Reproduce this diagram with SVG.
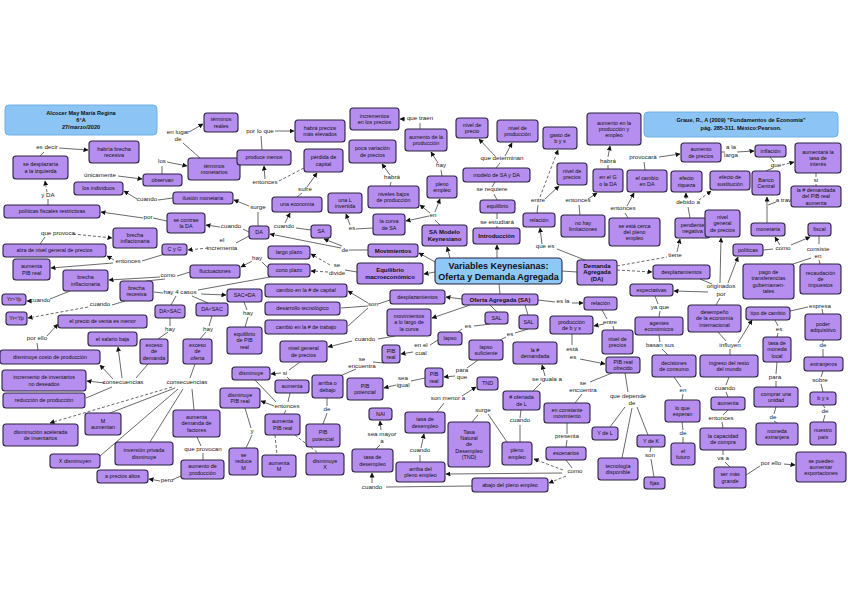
<svg xmlns="http://www.w3.org/2000/svg" width="848" height="599" viewBox="0 0 848 599">
<defs>
<marker id="ar" markerWidth="5" markerHeight="5" refX="4.5" refY="2.5" orient="auto" markerUnits="userSpaceOnUse"><path d="M0,0 L5,2.5 L0,5 z" fill="#111"/></marker>
<style>
text{font-family:"Liberation Sans",Arial,sans-serif;text-anchor:middle}
.n rect{fill:#b68ef0;stroke:#2b2340;stroke-width:1.1}
.n text{font-size:5.4px;fill:#111}
.bd text{font-size:6px;font-weight:bold}
.hd rect{fill:#8cc5f5;stroke:#70aee6;stroke-width:1}
.hd text{font-size:5.6px;font-weight:bold;fill:#111}
.ct rect{fill:#8ec8f6;stroke:#2b2340;stroke-width:1.1}
.ct text{font-size:9px;font-weight:bold;fill:#111}
.l text{font-size:6.2px;fill:#222}
.k path{stroke:#444;stroke-width:.8;fill:none}
.k path.a{marker-end:url(#ar)}
.k path.d{stroke-dasharray:3 2}
</style>
</defs>
<rect width="848" height="599" fill="#fff"/>

<g id="connectors" class="k">
<path d="M40,156 L44,152"/><path class="a" d="M59,148 L88,150"/>
<path d="M48,205 L48,199"/><path class="a d" d="M47,192 L45,181"/>
<path d="M167,221 L153,218"/><path class="a" d="M143,218 L101,212"/>
<path d="M40,244 L45,237"/><path class="a d" d="M73,234 L112,238"/>
<path d="M165,254 L142,261"/><path class="a" d="M114,260 L107,256"/><path class="a" d="M113,263 L51,268"/>
<path d="M249,236 L236,243"/><path class="a d" d="M208,248 L188,250"/>
<path d="M190,272 L177,276"/><path class="a" d="M160,277 L109,280"/><path d="M165,279 L146,281"/>
<path d="M70,291 L50,299"/><path class="a" d="M31,301 L27,301"/>
<path d="M125,301 L112,305"/><path class="a d" d="M88,307 L28,318"/>
<path d="M268,268 L262,262"/><path class="a" d="M252,261 L241,267"/>
<path d="M357,272 L345,270"/><path class="a d" d="M330,265 L311,254"/><path class="a d" d="M328,272 L311,271"/>
<path d="M270,277 L198,290"/><path class="a" d="M201,294 L226,295"/><path d="M176,296 L171,305"/><path d="M192,296 L208,303"/><path d="M163,293 L154,292"/>
<path d="M170,318 L170,326"/><path d="M168,332 L158,339"/>
<path d="M212,316 L209,326"/><path d="M206,332 L200,339"/>
<path d="M244,302 L247,310"/><path d="M248,317 L245,327"/>
<path d="M148,364 L136,378"/><path class="a" d="M105,383 L87,381"/><path d="M112,387 L86,398"/><path class="a" d="M113,379 L100,365"/><path class="a" d="M122,378 L118,347"/>
<path d="M195,364 L190,378"/><path class="a d" d="M172,387 L50,423"/><path d="M175,388 L110,413"/><path d="M178,389 L100,456"/><path d="M183,389 L150,442"/><path d="M192,389 L194,410"/>
<path d="M197,437 L201,446"/><path d="M203,453 L203,460"/>
<path d="M181,476 L172,480"/><path class="a" d="M160,481 L149,479"/>
<path d="M38,350 L37,343"/><path class="a" d="M47,336 L58,324"/>
<path d="M262,150 L261,136"/><path class="a" d="M275,131 L294,131"/>
<path d="M200,158 L183,143"/><path class="a" d="M189,132 L203,124"/>
<path d="M162,174 L162,166"/><path class="a" d="M167,162 L187,166"/>
<path class="a" d="M118,176 L142,179"/>
<path d="M173,198 L158,200"/><path class="a" d="M137,199 L124,191"/>
<path class="a" d="M265,179 L264,166"/><path class="d" d="M279,181 L304,168"/>
<path d="M297,197 L302,193"/><path class="a" d="M307,187 L317,173"/>
<path d="M390,186 L391,182"/><path class="a" d="M390,175 L382,164"/>
<path d="M258,226 L258,212"/><path class="a" d="M249,206 L234,200"/>
<path d="M249,232 L243,229"/><path class="a" d="M220,227 L206,225"/>
<path d="M311,230 L296,228"/><path class="a" d="M285,223 L290,213"/>
<path d="M368,250 L349,250"/><path class="a" d="M341,248 L270,234"/><path class="a" d="M342,246 L324,239"/>
<path d="M373,228 L356,229"/><path class="a" d="M350,225 L346,214"/>
<path d="M440,225 L435,220"/><path class="a" d="M429,216 L406,221"/><path class="a" d="M430,213 L420,205"/><path class="a" d="M435,212 L440,199"/>
<path d="M442,176 L441,170"/><path class="a" d="M438,163 L431,152"/>
<path d="M420,129 L420,123"/><path class="a" d="M405,119 L400,119"/>
<path d="M496,168 L500,163"/><path class="a" d="M495,156 L479,139"/><path class="a" d="M505,156 L512,143"/>
<path d="M497,200 L494,194"/><path d="M492,187 L495,182"/>
<path d="M497,228 L497,226"/><path d="M497,219 L497,213"/>
<path class="a" d="M450,258 L447,247"/><path class="a" d="M497,258 L497,245"/><path class="a" d="M435,262 L419,253"/><path class="a" d="M435,272 L424,274"/><path d="M499,284 L500,294"/><path d="M562,271 L577,272"/>
<path d="M585,260 L557,249"/><path class="a" d="M542,244 L540,228"/>
<path d="M537,213 L538,205"/><path class="a d" d="M540,197 L558,150"/><path class="a" d="M545,199 L559,186"/>
<path d="M580,215 L579,205"/><path class="a" d="M588,199 L597,193"/>
<path d="M608,169 L608,165"/><path class="a" d="M608,157 L610,146"/>
<path d="M628,218 L625,213"/><path class="a" d="M627,206 L634,193"/>
<path d="M645,170 L644,162"/><path class="a" d="M659,157 L680,154"/>
<path d="M721,152 L725,152"/><path class="a" d="M737,152 L754,151"/>
<path d="M770,157 L774,162"/><path d="M766,171 L773,168"/><path class="a d" d="M782,165 L794,162"/>
<path d="M816,173 L816,177"/><path d="M816,184 L816,186"/>
<path class="a" d="M767,223 L767,197"/><path d="M776,202 L768,205"/>
<path class="d" d="M617,266 L667,257"/><path class="a" d="M677,252 L680,239"/>
<path class="a d" d="M617,270 L652,272"/>
<path d="M690,218 L688,207"/><path class="a" d="M686,199 L686,193"/><path class="a d" d="M699,200 L711,191"/>
<path d="M700,279 L712,284"/><path class="a" d="M708,292 L674,291"/><path class="a" d="M720,283 L721,238"/><path class="a" d="M728,283 L738,257"/><path d="M720,298 L716,305"/>
<path d="M763,250 L773,249"/><path class="a" d="M780,245 L775,237"/><path class="a" d="M791,245 L810,237"/>
<path d="M819,236 L819,244"/><path d="M819,260 L820,264"/><path d="M811,258 L790,265"/>
<path d="M655,296 L658,304"/><path d="M660,311 L659,317"/>
<path d="M659,335 L660,342"/><path d="M662,349 L668,355"/>
<path d="M674,377 L681,387"/><path d="M683,394 L682,400"/>
<path d="M682,422 L683,430"/><path d="M683,437 L683,443"/>
<path d="M718,332 L726,341"/><path class="a" d="M738,343 L752,320"/><path d="M730,349 L730,355"/>
<path d="M729,377 L726,385"/><path d="M726,392 L728,397"/>
<path d="M728,410 L723,415"/><path d="M722,422 L723,428"/>
<path d="M723,450 L723,455"/><path d="M725,462 L730,467"/>
<path d="M746,475 L760,466"/><path class="a" d="M784,464 L795,465"/>
<path d="M775,320 L778,326"/><path d="M778,333 L777,337"/>
<path d="M777,362 L776,374"/><path d="M776,381 L776,387"/>
<path d="M776,407 L774,414"/><path d="M774,421 L777,423"/>
<path d="M790,311 L808,307"/><path d="M822,309 L823,314"/>
<path d="M823,340 L823,342"/><path d="M823,349 L823,357"/>
<path d="M823,371 L821,377"/><path d="M821,384 L823,392"/>
<path d="M823,405 L825,408"/><path d="M825,415 L823,422"/>
<path class="a" d="M462,299 L446,297"/>
<path class="a" d="M470,305 L432,318"/>
<path d="M490,305 L497,312"/><path d="M525,305 L528,315"/>
<path d="M538,300 L555,302"/><path class="a" d="M572,303 L583,303"/>
<path d="M602,310 L607,319"/><path class="a" d="M604,324 L594,326"/><path d="M613,326 L614,330"/>
<path d="M572,334 L572,345"/><path class="a" d="M580,359 L605,364"/>
<path d="M390,300 L378,304"/><path class="a" d="M368,303 L348,291"/><path d="M368,306 L341,308"/><path d="M368,308 L348,326"/>
<path d="M395,336 L378,339"/><path class="a" d="M352,341 L328,347"/>
<path d="M490,324 L474,326"/><path d="M462,329 L458,332"/>
<path d="M528,329 L515,333"/><path d="M506,337 L500,340"/>
<path d="M438,340 L430,345"/><path class="a" d="M413,352 L401,354"/>
<path d="M300,362 L289,370"/><path class="a" d="M281,373 L271,374"/><path d="M287,377 L290,380"/>
<path d="M384,363 L373,362"/><path d="M356,369 L340,376"/>
<path d="M425,378 L411,381"/><path class="a" d="M396,385 L384,388"/>
<path d="M478,360 L467,368"/><path class="a" d="M455,376 L444,377"/>
<path d="M290,393 L288,402"/><path d="M255,380 L276,402"/><path class="a" d="M274,406 L261,401"/><path d="M286,410 L284,414"/>
<path d="M245,408 L251,428"/><path d="M252,435 L246,448"/>
<path class="d" d="M275,435 L277,455"/><path class="d" d="M295,435 L318,453"/>
<path d="M327,398 L327,406"/><path d="M327,413 L323,424"/>
<path d="M376,449 L380,445"/><path class="a" d="M381,430 L380,421"/>
<path d="M472,486 L386,487"/><path class="a" d="M372,483 L372,473"/>
<path d="M420,462 L420,455"/><path class="a" d="M421,448 L424,434"/>
<path d="M437,412 L444,403"/><path class="a" d="M462,396 L476,387"/>
<path d="M472,422 L478,415"/><path d="M488,414 L507,442"/>
<path d="M520,442 L520,425"/><path d="M520,418 L521,410"/>
<path d="M533,391 L541,383"/><path class="a" d="M545,376 L542,365"/>
<path d="M566,460 L572,468"/><path class="a d" d="M563,470 L534,459"/><path class="a" d="M562,473 L446,474"/><path class="a d" d="M566,476 L549,483"/>
<path d="M567,423 L567,434"/><path d="M567,440 L566,447"/>
<path d="M612,373 L590,382"/><path d="M582,394 L575,403"/>
<path d="M625,373 L628,392"/><path d="M625,407 L610,427"/><path d="M637,407 L648,435"/><path d="M632,408 L622,458"/>
<path d="M651,447 L650,452"/><path d="M651,459 L654,477"/>
</g>

<g id="labels" class="l">
<text x="47" y="149">es decir</text>
<text x="178" y="134">en lugar</text><text x="178" y="141">de</text>
<text x="260" y="133">por lo que</text>
<text x="420" y="120">que traen</text>
<text x="162" y="163">los</text>
<text x="100" y="177">únicamente</text>
<text x="147" y="201">cuando</text>
<text x="48" y="197">y DA</text>
<text x="148" y="219">por</text>
<text x="58" y="235">que provoca</text>
<text x="222" y="242">el</text><text x="222" y="250">incrementa</text>
<text x="128" y="263">entonces</text>
<text x="168" y="277">como</text>
<text x="180" y="294">hay 4 casos</text>
<text x="40" y="302">cuando</text>
<text x="100" y="306">cuando</text>
<text x="37" y="340">por ello</text>
<text x="170" y="331">hay</text>
<text x="208" y="331">hay</text>
<text x="248" y="315">hay</text>
<text x="123" y="384">consecuencias</text>
<text x="187" y="384">consecuencias</text>
<text x="203" y="451">que provocan</text>
<text x="167" y="482">pero</text>
<text x="265" y="184">entonces</text>
<text x="305" y="191">sufre</text>
<text x="392" y="179">habrá</text>
<text x="258" y="209">surge</text>
<text x="231" y="228">cuando</text>
<text x="284" y="228">cuando</text>
<text x="352" y="230">es</text>
<text x="433" y="217">en</text>
<text x="441" y="167">hay</text>
<text x="502" y="160">que determinan</text>
<text x="492" y="191">se requiere</text>
<text x="497" y="224">se estudiará</text>
<text x="538" y="202">entre</text>
<text x="578" y="202">entonces</text>
<text x="608" y="163">habrá</text>
<text x="623" y="210">entonces</text>
<text x="643" y="159">provocará</text>
<text x="731" y="149">a la</text><text x="731" y="157">larga</text>
<text x="776" y="167">que</text>
<text x="816" y="182">si</text>
<text x="688" y="204">debido a</text>
<text x="791" y="202">a través de</text>
<text x="345" y="252">de</text>
<text x="257" y="260">hay</text>
<text x="337" y="267">se</text><text x="337" y="275">divide</text>
<text x="545" y="248">que es</text>
<text x="675" y="257">tiene</text>
<text x="783" y="250">como</text>
<text x="818" y="251">consiste</text><text x="818" y="258">en</text>
<text x="721" y="288">originados</text><text x="721" y="296">por</text>
<text x="660" y="309">ya que</text>
<text x="820" y="308">expresa</text>
<text x="779" y="331">es</text>
<text x="660" y="347">basan sus</text>
<text x="730" y="347">influyen</text>
<text x="823" y="347">de</text>
<text x="563" y="303">es la</text>
<text x="610" y="324">entre</text>
<text x="468" y="328">es</text>
<text x="510" y="336">es</text>
<text x="373" y="306">son</text>
<text x="365" y="341">cuando</text>
<text x="421" y="347">en el</text><text x="421" y="355">cual</text>
<text x="572" y="351">está</text><text x="573" y="359">es</text>
<text x="362" y="361">se</text><text x="362" y="368">encuentra</text>
<text x="285" y="375">si</text>
<text x="403" y="380">sea</text><text x="403" y="387">igual</text>
<text x="462" y="372">para</text><text x="462" y="379">que</text>
<text x="287" y="408">entonces</text>
<text x="327" y="411">de</text>
<text x="252" y="433">y</text>
<text x="382" y="436">sea mayor</text><text x="382" y="443">a</text>
<text x="420" y="452">cuando</text>
<text x="372" y="489">cuando</text>
<text x="448" y="400">son menor a</text>
<text x="547" y="381">se iguala a</text>
<text x="483" y="412">surge</text>
<text x="520" y="422">cuando</text>
<text x="583" y="385">se</text><text x="583" y="392">encuentra</text>
<text x="628" y="398">que depende</text><text x="632" y="405">de</text>
<text x="567" y="438">presenta</text>
<text x="575" y="473">como</text>
<text x="650" y="457">son</text>
<text x="775" y="379">para</text>
<text x="820" y="382">sobre</text>
<text x="683" y="392">en</text>
<text x="725" y="390">cuando</text>
<text x="825" y="413">de</text>
<text x="721" y="420">entonces</text>
<text x="773" y="419">de</text>
<text x="683" y="435">de</text>
<text x="723" y="460">va a</text>
<text x="771" y="465">por ello</text>
</g>

<g id="hdr1" class="hd"><rect x="5" y="105" width="152" height="30" rx="4"/><text x="81" y="115">Alcocer May María Regina</text><text x="81" y="122">6°A</text><text x="81" y="129">27/marzo/2020</text></g>
<g id="hdr2" class="hd"><rect x="644" y="112" width="194" height="25" rx="4"/><text x="741" y="122">Graue, R., A (2009) "Fundamentos de Economía"</text><text x="741" y="130">pág. 285-311. México:Pearson.</text></g>
<g id="center" class="ct"><rect x="435" y="258" width="127" height="26" rx="4"/><text x="498.5" y="269">Variables Keynesianas:</text><text x="498.5" y="280">Oferta y Demanda Agregada</text></g>

<g id="n1" class="n"><rect x="13" y="156" width="55" height="23" rx="3"/><text x="40.5" y="166.2">se desplazaría</text><text x="40.5" y="172.6">a la izquierda</text></g>
<g id="n2" class="n"><rect x="89" y="141" width="50" height="22" rx="3"/><text x="114" y="150.7">habría brecha</text><text x="114" y="157.1">recesiva</text></g>
<g id="n3" class="n"><rect x="204" y="113" width="34" height="19" rx="3"/><text x="221" y="121.2">términos</text><text x="221" y="127.6">reales</text></g>
<g id="n4" class="n"><rect x="188" y="158" width="52" height="22" rx="3"/><text x="214" y="167.7">términos</text><text x="214" y="174.1">monetarios</text></g>
<g id="n5" class="n"><rect x="143" y="174" width="39" height="12" rx="3"/><text x="162.5" y="181.9">observan</text></g>
<g id="n6" class="n"><rect x="74" y="182" width="49" height="13" rx="3"/><text x="98.5" y="190.4">los individuos</text></g>
<g id="n7" class="n"><rect x="173" y="192" width="60" height="12" rx="3"/><text x="203" y="199.9">ilusión monetaria</text></g>
<g id="n8" class="n"><rect x="4" y="205" width="96" height="13" rx="3"/><text x="52" y="213.4">políticas fiscales restrictivas</text></g>
<g id="n9" class="n"><rect x="167" y="213" width="38" height="20" rx="3"/><text x="186" y="221.7">se contrae</text><text x="186" y="228.1">la DA</text></g>
<g id="n10" class="n"><rect x="113" y="228" width="44" height="20" rx="3"/><text x="135" y="236.7">brecha</text><text x="135" y="243.1">inflacionaria</text></g>
<g id="n11" class="n"><rect x="3" y="244" width="103" height="13" rx="3"/><text x="54.5" y="252.4">alza de nivel general de precios</text></g>
<g id="n12" class="n"><rect x="162" y="244" width="25" height="11" rx="3"/><text x="174.5" y="251.4">C y G</text></g>
<g id="n13" class="n"><rect x="13" y="259" width="37" height="21" rx="3"/><text x="31.5" y="268.2">aumenta</text><text x="31.5" y="274.6">PIB real</text></g>
<g id="n14" class="n"><rect x="63" y="270" width="45" height="21" rx="3"/><text x="85.5" y="279.2">brecha</text><text x="85.5" y="285.6">inflacionaria</text></g>
<g id="n15" class="n"><rect x="190" y="265" width="50" height="13" rx="3"/><text x="215" y="273.4">fluctuaciones</text></g>
<g id="n16" class="n"><rect x="120" y="281" width="33" height="20" rx="3"/><text x="136.5" y="289.7">brecha</text><text x="136.5" y="296.1">recesiva</text></g>
<g id="n17" class="n"><rect x="2" y="294" width="24" height="11" rx="3"/><text x="14" y="301.4">Yr&gt;Yp</text></g>
<g id="n18" class="n"><rect x="6" y="312" width="21" height="13" rx="3"/><text x="16.5" y="320.4">Yr&lt;Yp</text></g>
<g id="n19" class="n"><rect x="155" y="305" width="30" height="13" rx="3"/><text x="170" y="313.4">DA&gt;SAC</text></g>
<g id="n20" class="n"><rect x="196" y="303" width="32" height="13" rx="3"/><text x="212" y="311.4">DA&lt;SAC</text></g>
<g id="n21" class="n"><rect x="227" y="289" width="35" height="13" rx="3"/><text x="244.5" y="297.4">SAC=DA</text></g>
<g id="n22" class="n"><rect x="227" y="327" width="35" height="27" rx="3"/><text x="244.5" y="336">equilibrio</text><text x="244.5" y="342.4">de PIB</text><text x="244.5" y="348.8">real</text></g>
<g id="n23" class="n"><rect x="58" y="315" width="89" height="13" rx="3"/><text x="102.5" y="323.4">el precio de venta es menor</text></g>
<g id="n24" class="n"><rect x="88" y="332" width="49" height="14" rx="3"/><text x="112.5" y="340.9">el salario baja</text></g>
<g id="n25" class="n"><rect x="140" y="339" width="28" height="25" rx="3"/><text x="154" y="347">exceso</text><text x="154" y="353.4">de</text><text x="154" y="359.8">demanda</text></g>
<g id="n26" class="n"><rect x="183" y="339" width="29" height="25" rx="3"/><text x="197.5" y="347">exceso</text><text x="197.5" y="353.4">de</text><text x="197.5" y="359.8">oferta</text></g>
<g id="n27" class="n"><rect x="0" y="350" width="100" height="14" rx="3"/><text x="50" y="358.9">disminuye costo de producción</text></g>
<g id="n28" class="n"><rect x="2" y="370" width="84" height="21" rx="3"/><text x="44" y="379.2">incremento de inventarios</text><text x="44" y="385.6">no deseados</text></g>
<g id="n29" class="n"><rect x="3" y="393" width="82" height="15" rx="3"/><text x="44" y="402.4">reducción de producción</text></g>
<g id="n30" class="n"><rect x="3" y="424" width="75" height="22" rx="3"/><text x="40.5" y="433.7">disminución acelerada</text><text x="40.5" y="440.1">de inventarios</text></g>
<g id="n31" class="n"><rect x="85" y="413" width="36" height="22" rx="3"/><text x="103" y="422.7">M</text><text x="103" y="429.1">aumentan</text></g>
<g id="n32" class="n"><rect x="173" y="410" width="47" height="27" rx="3"/><text x="196.5" y="419">aumenta</text><text x="196.5" y="425.4">demanda de</text><text x="196.5" y="431.8">factores</text></g>
<g id="n33" class="n"><rect x="115" y="442" width="58" height="23" rx="3"/><text x="144" y="452.2">inversión privada</text><text x="144" y="458.6">disminuye</text></g>
<g id="n34" class="n"><rect x="50" y="454" width="50" height="14" rx="3"/><text x="75" y="462.9">X disminuyen</text></g>
<g id="n35" class="n"><rect x="97" y="470" width="51" height="13" rx="3"/><text x="122.5" y="478.4">a precios altos</text></g>
<g id="n36" class="n"><rect x="181" y="460" width="43" height="19" rx="3"/><text x="202.5" y="468.2">aumento de</text><text x="202.5" y="474.6">producción</text></g>
<g id="n37" class="n"><rect x="249" y="226" width="20" height="13" rx="3"/><text x="259" y="234.4">DA</text></g>
<g id="n38" class="n"><rect x="311" y="225" width="20" height="13" rx="3"/><text x="321" y="233.4">SA</text></g>
<g id="n39" class="n"><rect x="268" y="246" width="42" height="13" rx="3"/><text x="289" y="254.4">largo plazo</text></g>
<g id="n40" class="n"><rect x="268" y="264" width="42" height="13" rx="3"/><text x="289" y="272.4">corto plazo</text></g>
<g id="n41" class="n bd"><rect x="368" y="244" width="50" height="13" rx="3"/><text x="393" y="252.6">Movimientos</text></g>
<g id="n42" class="n bd"><rect x="357" y="263" width="66" height="21" rx="3"/><text x="390" y="271.8">Equilibrio</text><text x="390" y="278.6">macroeconómico</text></g>
<g id="n43" class="n"><rect x="265" y="284" width="82" height="13" rx="3"/><text x="306" y="292.4">cambio en la # de capital</text></g>
<g id="n44" class="n"><rect x="265" y="302" width="75" height="13" rx="3"/><text x="302.5" y="310.4">desarrollo tecnológico</text></g>
<g id="n45" class="n"><rect x="265" y="320" width="82" height="14" rx="3"/><text x="306" y="328.9">cambio en la # de trabajo</text></g>
<g id="n46" class="n"><rect x="390" y="290" width="55" height="14" rx="3"/><text x="417.5" y="298.9">desplazamientos</text></g>
<g id="n47" class="n"><rect x="387" y="309" width="44" height="27" rx="3"/><text x="409" y="318">movimientos</text><text x="409" y="324.4">a lo largo de</text><text x="409" y="330.8">la curva</text></g>
<g id="n48" class="n"><rect x="280" y="341" width="47" height="21" rx="3"/><text x="303.5" y="350.2">nivel general</text><text x="303.5" y="356.6">de precios</text></g>
<g id="n49" class="n"><rect x="382" y="345" width="18" height="18" rx="3"/><text x="391" y="352.7">PIB</text><text x="391" y="359.1">real</text></g>
<g id="n50" class="n"><rect x="232" y="367" width="38" height="13" rx="3"/><text x="251" y="375.4">disminuye</text></g>
<g id="n51" class="n"><rect x="275" y="380" width="34" height="13" rx="3"/><text x="292" y="388.4">aumenta</text></g>
<g id="n52" class="n"><rect x="312" y="375" width="31" height="23" rx="3"/><text x="327.5" y="385.2">arriba o</text><text x="327.5" y="391.6">debajo</text></g>
<g id="n53" class="n"><rect x="347" y="378" width="36" height="22" rx="3"/><text x="365" y="387.7">PIB</text><text x="365" y="394.1">potencial</text></g>
<g id="n54" class="n"><rect x="220" y="388" width="40" height="20" rx="3"/><text x="240" y="396.7">disminuye</text><text x="240" y="403.1">PIB real</text></g>
<g id="n55" class="n"><rect x="265" y="414" width="35" height="21" rx="3"/><text x="282.5" y="423.2">aumenta</text><text x="282.5" y="429.6">PIB real</text></g>
<g id="n56" class="n"><rect x="306" y="424" width="34" height="23" rx="3"/><text x="323" y="434.2">PIB</text><text x="323" y="440.6">potencial</text></g>
<g id="n57" class="n"><rect x="369" y="408" width="23" height="12" rx="3"/><text x="380.5" y="415.9">NAI</text></g>
<g id="n58" class="n"><rect x="352" y="449" width="41" height="23" rx="3"/><text x="372.5" y="459.2">tasa de</text><text x="372.5" y="465.6">desempleo</text></g>
<g id="n59" class="n"><rect x="405" y="412" width="40" height="21" rx="3"/><text x="425" y="421.2">tasa de</text><text x="425" y="427.6">desempleo</text></g>
<g id="n60" class="n"><rect x="229" y="448" width="29" height="27" rx="3"/><text x="243.5" y="457">se</text><text x="243.5" y="463.4">reduce</text><text x="243.5" y="469.8">M</text></g>
<g id="n61" class="n"><rect x="262" y="455" width="34" height="22" rx="3"/><text x="279" y="464.7">aumenta</text><text x="279" y="471.1">M</text></g>
<g id="n62" class="n"><rect x="306" y="453" width="38" height="22" rx="3"/><text x="325" y="462.7">disminuye</text><text x="325" y="469.1">X</text></g>
<g id="n63" class="n"><rect x="396" y="462" width="49" height="20" rx="3"/><text x="420.5" y="470.7">arriba del</text><text x="420.5" y="477.1">pleno empleo</text></g>
<g id="n64" class="n"><rect x="472" y="478" width="76" height="14" rx="3"/><text x="510" y="486.9">abajo del pleno empleo</text></g>
<g id="n65" class="n bd"><rect x="422" y="225" width="45" height="21" rx="3"/><text x="444.5" y="233.8">SA Modelo</text><text x="444.5" y="240.6">Keynesiano</text></g>
<g id="n66" class="n bd"><rect x="473" y="228" width="47" height="16" rx="3"/><text x="496.5" y="238.1">Introducción</text></g>
<g id="n67" class="n bd"><rect x="577" y="260" width="40" height="25" rx="3"/><text x="597" y="267.5">Demanda</text><text x="597" y="274.3">Agregada</text><text x="597" y="281.1">(DA)</text></g>
<g id="n68" class="n bd"><rect x="462" y="294" width="76" height="11" rx="3"/><text x="500" y="301.6">Oferta Agregada (SA)</text></g>
<g id="n69" class="n"><rect x="584" y="297" width="33" height="13" rx="3"/><text x="600.5" y="305.4">relación</text></g>
<g id="n70" class="n"><rect x="485" y="312" width="23" height="12" rx="3"/><text x="496.5" y="319.9">SAL</text></g>
<g id="n71" class="n"><rect x="519" y="315" width="19" height="14" rx="3"/><text x="528.5" y="323.9">SAL</text></g>
<g id="n72" class="n"><rect x="438" y="332" width="24" height="13" rx="3"/><text x="450" y="340.4">lapso</text></g>
<g id="n73" class="n"><rect x="550" y="316" width="43" height="18" rx="3"/><text x="571.5" y="323.7">producción</text><text x="571.5" y="330.1">de b y s</text></g>
<g id="n74" class="n"><rect x="602" y="330" width="31" height="24" rx="3"/><text x="617.5" y="340.7">nivel de</text><text x="617.5" y="347.1">precios</text></g>
<g id="n75" class="n"><rect x="469" y="340" width="34" height="20" rx="3"/><text x="486" y="348.7">lapso</text><text x="486" y="355.1">suficiente</text></g>
<g id="n76" class="n"><rect x="513" y="342" width="44" height="22" rx="3"/><text x="535" y="351.7">la #</text><text x="535" y="358.1">demandada</text></g>
<g id="n77" class="n"><rect x="606" y="357" width="34" height="16" rx="3"/><text x="623" y="363.7">PIB real</text><text x="623" y="370.1">ofrecido</text></g>
<g id="n78" class="n"><rect x="425" y="368" width="18" height="19" rx="3"/><text x="434" y="376.2">PIB</text><text x="434" y="382.6">real</text></g>
<g id="n79" class="n"><rect x="477" y="377" width="21" height="13" rx="3"/><text x="487.5" y="385.4">TND</text></g>
<g id="n80" class="n"><rect x="503" y="391" width="37" height="19" rx="3"/><text x="521.5" y="399.2"># ofertada</text><text x="521.5" y="405.6">de L</text></g>
<g id="n81" class="n"><rect x="448" y="422" width="42" height="45" rx="3"/><text x="469" y="433.6">Tasa</text><text x="469" y="440">Natural</text><text x="469" y="446.4">de</text><text x="469" y="452.8">Desempleo</text><text x="469" y="459.2">(TND)</text></g>
<g id="n82" class="n"><rect x="502" y="442" width="30" height="23" rx="3"/><text x="517" y="452.2">pleno</text><text x="517" y="458.6">empleo</text></g>
<g id="n83" class="n"><rect x="544" y="403" width="46" height="20" rx="3"/><text x="567" y="411.7">en constante</text><text x="567" y="418.1">movimiento</text></g>
<g id="n84" class="n"><rect x="546" y="447" width="40" height="13" rx="3"/><text x="566" y="455.4">escenarios</text></g>
<g id="n85" class="n"><rect x="592" y="427" width="26" height="13" rx="3"/><text x="605" y="435.4">Y de L</text></g>
<g id="n86" class="n"><rect x="598" y="458" width="40" height="22" rx="3"/><text x="618" y="467.7">tecnología</text><text x="618" y="474.1">disponible</text></g>
<g id="n87" class="n"><rect x="295" y="120" width="50" height="22" rx="3"/><text x="320" y="129.7">habrá precios</text><text x="320" y="136.1">más elevados</text></g>
<g id="n88" class="n"><rect x="350" y="108" width="49" height="22" rx="3"/><text x="374.5" y="117.7">incrementos</text><text x="374.5" y="124.1">en los precios</text></g>
<g id="n89" class="n"><rect x="405" y="129" width="42" height="22" rx="3"/><text x="426" y="138.7">aumento de la</text><text x="426" y="145.1">producción</text></g>
<g id="n90" class="n"><rect x="237" y="150" width="54" height="15" rx="3"/><text x="264" y="159.4">produce menos</text></g>
<g id="n91" class="n"><rect x="304" y="149" width="39" height="23" rx="3"/><text x="323.5" y="159.2">pérdida de</text><text x="323.5" y="165.6">capital</text></g>
<g id="n92" class="n"><rect x="349" y="140" width="47" height="23" rx="3"/><text x="372.5" y="150.2">poca variación</text><text x="372.5" y="156.6">de precios</text></g>
<g id="n93" class="n"><rect x="368" y="186" width="51" height="22" rx="3"/><text x="393.5" y="195.7">niveles bajos</text><text x="393.5" y="202.1">de producción</text></g>
<g id="n94" class="n"><rect x="272" y="197" width="50" height="15" rx="3"/><text x="297" y="206.4">una economía</text></g>
<g id="n95" class="n"><rect x="328" y="193" width="34" height="20" rx="3"/><text x="345" y="201.7">una L</text><text x="345" y="208.1">invertida</text></g>
<g id="n96" class="n"><rect x="373" y="214" width="32" height="21" rx="3"/><text x="389" y="223.2">la curva</text><text x="389" y="229.6">de SA</text></g>
<g id="n97" class="n"><rect x="427" y="176" width="30" height="22" rx="3"/><text x="442" y="185.7">pleno</text><text x="442" y="192.1">empleo</text></g>
<g id="n98" class="n"><rect x="456" y="118" width="32" height="20" rx="3"/><text x="472" y="126.7">nivel de</text><text x="472" y="133.1">precio</text></g>
<g id="n99" class="n"><rect x="497" y="120" width="41" height="22" rx="3"/><text x="517.5" y="129.7">nivel de</text><text x="517.5" y="136.1">producción</text></g>
<g id="n100" class="n"><rect x="543" y="127" width="34" height="22" rx="3"/><text x="560" y="136.7">gasto de</text><text x="560" y="143.1">b y s</text></g>
<g id="n101" class="n"><rect x="587" y="113" width="54" height="32" rx="3"/><text x="614" y="124.5">aumento en la</text><text x="614" y="130.9">producción y</text><text x="614" y="137.3">empleo</text></g>
<g id="n102" class="n"><rect x="463" y="168" width="67" height="14" rx="3"/><text x="496.5" y="176.9">modelo de SA y DA</text></g>
<g id="n103" class="n"><rect x="557" y="163" width="30" height="22" rx="3"/><text x="572" y="172.7">nivel de</text><text x="572" y="179.1">precios</text></g>
<g id="n104" class="n"><rect x="593" y="169" width="30" height="23" rx="3"/><text x="608" y="179.2">en el G</text><text x="608" y="185.6">o la DA</text></g>
<g id="n105" class="n"><rect x="480" y="200" width="35" height="13" rx="3"/><text x="497.5" y="208.4">equilibrio</text></g>
<g id="n106" class="n"><rect x="523" y="213" width="32" height="14" rx="3"/><text x="539" y="221.9">relación</text></g>
<g id="n107" class="n"><rect x="561" y="215" width="44" height="22" rx="3"/><text x="583" y="224.7">no hay</text><text x="583" y="231.1">limitaciones</text></g>
<g id="n108" class="n"><rect x="609" y="218" width="51" height="28" rx="3"/><text x="634.5" y="227.5">se está cerca</text><text x="634.5" y="233.9">del pleno</text><text x="634.5" y="240.3">empleo</text></g>
<g id="n109" class="n"><rect x="681" y="143" width="40" height="19" rx="3"/><text x="701" y="151.2">aumento</text><text x="701" y="157.6">de precios</text></g>
<g id="n110" class="n"><rect x="755" y="145" width="31" height="12" rx="3"/><text x="770.5" y="152.9">inflación</text></g>
<g id="n111" class="n"><rect x="795" y="143" width="46" height="30" rx="3"/><text x="818" y="153.5">aumentará la</text><text x="818" y="159.9">tasa de</text><text x="818" y="166.3">interés</text></g>
<g id="n112" class="n"><rect x="627" y="170" width="40" height="22" rx="3"/><text x="647" y="179.7">el cambio</text><text x="647" y="186.1">en DA</text></g>
<g id="n113" class="n"><rect x="671" y="171" width="31" height="21" rx="3"/><text x="686.5" y="180.2">efecto</text><text x="686.5" y="186.6">riqueza</text></g>
<g id="n114" class="n"><rect x="710" y="171" width="40" height="19" rx="3"/><text x="730" y="179.2">efecto de</text><text x="730" y="185.6">sustitución</text></g>
<g id="n115" class="n"><rect x="752" y="171" width="28" height="24" rx="3"/><text x="766" y="181.7">Banco</text><text x="766" y="188.1">Central</text></g>
<g id="n116" class="n"><rect x="791" y="186" width="50" height="21" rx="3"/><text x="816" y="192">la # demandada</text><text x="816" y="198.4">del PIB real</text><text x="816" y="204.8">aumenta</text></g>
<g id="n117" class="n"><rect x="675" y="218" width="35" height="20" rx="3"/><text x="692.5" y="226.7">pendiente</text><text x="692.5" y="233.1">negativa</text></g>
<g id="n118" class="n"><rect x="705" y="210" width="35" height="27" rx="3"/><text x="722.5" y="219">nivel</text><text x="722.5" y="225.4">general</text><text x="722.5" y="231.8">de precios</text></g>
<g id="n119" class="n"><rect x="751" y="223" width="34" height="13" rx="3"/><text x="768" y="231.4">monetaria</text></g>
<g id="n120" class="n"><rect x="808" y="223" width="23" height="13" rx="3"/><text x="819.5" y="231.4">fiscal</text></g>
<g id="n121" class="n"><rect x="733" y="244" width="30" height="12" rx="3"/><text x="748" y="251.9">políticas</text></g>
<g id="n122" class="n"><rect x="653" y="265" width="57" height="14" rx="3"/><text x="681.5" y="273.9">desplazamientos</text></g>
<g id="n123" class="n"><rect x="743" y="264" width="51" height="35" rx="3"/><text x="768.5" y="273.8">pago de</text><text x="768.5" y="280.2">transferencias</text><text x="768.5" y="286.6">gubernamen-</text><text x="768.5" y="293">tales</text></g>
<g id="n124" class="n"><rect x="800" y="264" width="41" height="30" rx="3"/><text x="820.5" y="274.5">recaudación</text><text x="820.5" y="280.9">de</text><text x="820.5" y="287.3">impuestos</text></g>
<g id="n125" class="n"><rect x="630" y="284" width="43" height="12" rx="3"/><text x="651.5" y="291.9">expectativas</text></g>
<g id="n126" class="n"><rect x="688" y="305" width="53" height="27" rx="3"/><text x="714.5" y="314">desempeño</text><text x="714.5" y="320.4">de la economía</text><text x="714.5" y="326.8">internacional</text></g>
<g id="n127" class="n"><rect x="746" y="307" width="44" height="13" rx="3"/><text x="768" y="315.4">tipo de cambio</text></g>
<g id="n128" class="n"><rect x="635" y="317" width="48" height="18" rx="3"/><text x="659" y="324.7">agentes</text><text x="659" y="331.1">económicos</text></g>
<g id="n129" class="n"><rect x="805" y="314" width="36" height="26" rx="3"/><text x="823" y="325.7">poder</text><text x="823" y="332.1">adquisitivo</text></g>
<g id="n130" class="n"><rect x="763" y="337" width="28" height="25" rx="3"/><text x="777" y="345">tasa de</text><text x="777" y="351.4">moneda</text><text x="777" y="357.8">local</text></g>
<g id="n131" class="n"><rect x="652" y="355" width="44" height="22" rx="3"/><text x="674" y="364.7">decisiones</text><text x="674" y="371.1">de consumo</text></g>
<g id="n132" class="n"><rect x="700" y="355" width="58" height="22" rx="3"/><text x="729" y="364.7">ingreso del resto</text><text x="729" y="371.1">del mundo</text></g>
<g id="n133" class="n"><rect x="804" y="357" width="39" height="14" rx="3"/><text x="823.5" y="365.9">extranjeros</text></g>
<g id="n134" class="n"><rect x="754" y="387" width="44" height="20" rx="3"/><text x="776" y="395.7">comprar una</text><text x="776" y="402.1">unidad</text></g>
<g id="n135" class="n"><rect x="810" y="392" width="26" height="13" rx="3"/><text x="823" y="400.4">b y s</text></g>
<g id="n136" class="n"><rect x="665" y="400" width="35" height="22" rx="3"/><text x="682.5" y="409.7">lo que</text><text x="682.5" y="416.1">esperan</text></g>
<g id="n137" class="n"><rect x="711" y="397" width="34" height="13" rx="3"/><text x="728" y="405.4">aumenta</text></g>
<g id="n138" class="n"><rect x="700" y="428" width="46" height="22" rx="3"/><text x="723" y="437.7">la capacidad</text><text x="723" y="444.1">de compra</text></g>
<g id="n139" class="n"><rect x="756" y="423" width="42" height="22" rx="3"/><text x="777" y="432.7">moneda</text><text x="777" y="439.1">extranjera</text></g>
<g id="n140" class="n"><rect x="810" y="422" width="26" height="23" rx="3"/><text x="823" y="432.2">nuestro</text><text x="823" y="438.6">país</text></g>
<g id="n141" class="n"><rect x="637" y="435" width="28" height="12" rx="3"/><text x="651" y="442.9">Y de K</text></g>
<g id="n142" class="n"><rect x="671" y="443" width="24" height="22" rx="3"/><text x="683" y="452.7">el</text><text x="683" y="459.1">futuro</text></g>
<g id="n143" class="n"><rect x="644" y="477" width="21" height="12" rx="3"/><text x="654.5" y="484.9">fijas</text></g>
<g id="n144" class="n"><rect x="714" y="467" width="32" height="21" rx="3"/><text x="730" y="476.2">ser más</text><text x="730" y="482.6">grande</text></g>
<g id="n145" class="n"><rect x="796" y="452" width="50" height="30" rx="3"/><text x="821" y="462.5">se pueden</text><text x="821" y="468.9">aumentar</text><text x="821" y="475.3">exportaciones</text></g>
</svg>
